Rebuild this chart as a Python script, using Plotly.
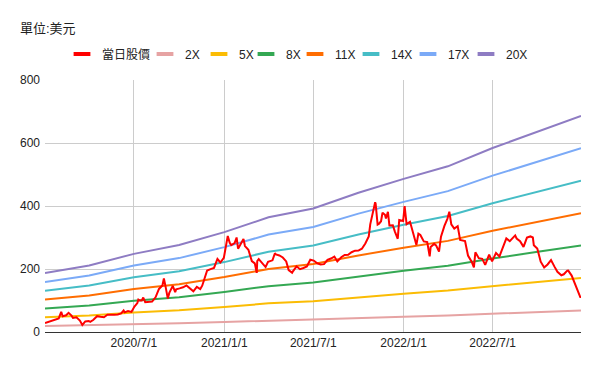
import plotly.graph_objects as go

# ---------------- data ----------------
price_dates = [
    "2020-01-02","2020-01-09","2020-01-16","2020-01-23","2020-01-30","2020-02-04","2020-02-07","2020-02-14",
    "2020-02-19","2020-02-25","2020-02-28","2020-03-06","2020-03-13","2020-03-18","2020-03-24","2020-03-31",
    "2020-04-03","2020-04-09","2020-04-14","2020-04-17","2020-04-24","2020-05-01","2020-05-08","2020-05-15",
    "2020-05-22","2020-05-29","2020-06-05","2020-06-10","2020-06-12","2020-06-19","2020-06-26","2020-07-02",
    "2020-07-08","2020-07-10","2020-07-13","2020-07-17","2020-07-20","2020-07-24","2020-07-31","2020-08-07",
    "2020-08-14","2020-08-21","2020-08-28","2020-08-31","2020-09-04","2020-09-08","2020-09-11","2020-09-18",
    "2020-09-23","2020-09-25","2020-10-02","2020-10-09","2020-10-16","2020-10-23","2020-10-30","2020-11-06",
    "2020-11-13","2020-11-17","2020-11-20","2020-11-24","2020-11-27","2020-12-04","2020-12-11","2020-12-18",
    "2020-12-24","2020-12-31",
    "2021-01-08","2021-01-12","2021-01-15","2021-01-22","2021-01-26","2021-01-29","2021-02-05","2021-02-09",
    "2021-02-12","2021-02-19","2021-02-26","2021-03-04","2021-03-08","2021-03-09","2021-03-12","2021-03-19",
    "2021-03-26","2021-03-31","2021-04-09","2021-04-14","2021-04-16","2021-04-23","2021-04-30","2021-05-07",
    "2021-05-12","2021-05-19","2021-05-21","2021-05-28","2021-06-04","2021-06-11","2021-06-18","2021-06-25",
    "2021-07-02","2021-07-09","2021-07-16","2021-07-23","2021-07-30","2021-08-06","2021-08-13","2021-08-19",
    "2021-08-27","2021-09-03","2021-09-10","2021-09-17","2021-09-24","2021-10-01","2021-10-08","2021-10-15",
    "2021-10-22","2021-10-25","2021-10-29","2021-11-04","2021-11-05","2021-11-09","2021-11-12","2021-11-16",
    "2021-11-19","2021-11-24","2021-11-26","2021-11-30","2021-12-03","2021-12-10","2021-12-14","2021-12-20",
    "2021-12-23","2021-12-31",
    "2022-01-03","2022-01-07","2022-01-14","2022-01-21","2022-01-27","2022-01-31","2022-02-04","2022-02-11",
    "2022-02-18","2022-02-23","2022-02-25","2022-03-04","2022-03-08","2022-03-14","2022-03-18","2022-03-25",
    "2022-03-31","2022-04-04","2022-04-08","2022-04-14","2022-04-21","2022-04-26","2022-04-29","2022-05-06",
    "2022-05-12","2022-05-20","2022-05-24","2022-05-27","2022-06-03","2022-06-10","2022-06-16","2022-06-24",
    "2022-06-30","2022-07-08","2022-07-15","2022-07-22","2022-07-29","2022-08-05","2022-08-12","2022-08-16",
    "2022-08-19","2022-08-26","2022-09-02","2022-09-09","2022-09-16","2022-09-21","2022-09-23","2022-09-30",
    "2022-10-07","2022-10-14","2022-10-21","2022-10-28","2022-11-04","2022-11-10","2022-11-18","2022-11-23",
    "2022-11-30","2022-12-02","2022-12-09","2022-12-16","2022-12-22","2022-12-27","2022-12-28",
]
price_values = [
    28.7, 32.1, 34.2, 37.6, 43.0, 64.0, 50.0, 53.0,
    61.0, 52.0, 44.5, 46.8, 36.4, 22.5, 33.5, 34.9,
    32.1, 38.2, 47.8, 50.3, 48.3, 46.8, 54.6, 53.5,
    54.6, 55.7, 59.0, 68.3, 62.4, 66.7, 63.9, 80.6,
    92.0, 103.0, 99.8, 100.1, 109.5, 94.5, 95.4, 96.7,
    110.1, 136.7, 147.6, 170.0, 139.4, 106.0, 124.2, 146.5,
    126.8, 135.5, 138.4, 141.9, 148.0, 140.1, 129.3, 143.3,
    136.2, 147.0, 163.2, 185.0, 195.3, 199.7, 203.3, 231.7,
    220.6, 235.2,
    305.0, 283.0, 276.0, 282.2, 300.0, 264.5, 285.9, 295.0,
    272.8, 260.9, 225.2, 217.7, 187.7, 225.4, 231.2, 218.3,
    206.2, 222.6, 227.5, 250.0, 246.3, 243.0, 236.5, 224.2,
    196.6, 187.8, 193.5, 208.4, 199.3, 203.3, 207.8, 229.6,
    226.8, 218.2, 214.4, 215.4, 229.1, 233.3, 239.5, 224.0,
    237.3, 244.7, 245.0, 253.2, 258.1, 258.4, 264.5, 281.0,
    303.2, 341.6, 371.3, 412.0, 407.4, 341.0, 344.0, 351.6,
    379.0, 372.0, 360.6, 381.6, 338.3, 339.0, 319.5, 296.0,
    355.7, 352.3,
    399.9, 342.3, 349.9, 314.6, 276.4, 312.2, 307.8, 287.6,
    285.7, 240.0, 269.9, 279.7, 275.0, 255.5, 302.8, 336.9,
    359.2, 381.8, 341.8, 328.3, 336.0, 292.1, 290.3, 288.6,
    242.7, 221.3, 205.0, 253.2, 234.5, 232.2, 213.0, 245.7,
    224.5, 250.8, 240.1, 272.2, 297.1, 288.2, 300.6, 306.6,
    296.7, 288.1, 270.2, 299.7, 303.4, 300.0, 275.3, 265.3,
    223.1, 205.0, 214.4, 228.5, 207.5, 191.3, 180.2, 183.2,
    194.7, 194.9, 179.1, 150.2, 125.4, 109.1, 112.7,
]

# base value behind the multiple bands (read from the 20X / 17X lines)
band_dates = ["2020-01-02","2020-04-01","2020-07-01","2020-10-01","2021-01-01","2021-04-01",
              "2021-07-01","2021-10-01","2022-01-01","2022-04-01","2022-07-01","2022-10-01","2022-12-28"]
band_base = [9.35, 10.55, 12.4, 13.8, 15.85, 18.2, 19.6, 22.1, 24.3, 26.3, 29.2, 31.8, 34.3]
band_multiples = [2, 5, 8, 11, 14, 17, 20]
band_names = ["2X", "5X", "8X", "11X", "14X", "17X", "20X"]
band_colors = ["#e6a3a3", "#fbbc04", "#34a853", "#ff6d01", "#46bdc6", "#7baaf7", "#8e7cc3"]

price_name = "當日股價"
price_color = "#ff0000"

x_tickvals = ["2020-07-01", "2021-01-01", "2021-07-01", "2022-01-01", "2022-07-01"]
x_ticktext = ["2020/7/1", "2021/1/1", "2021/7/1", "2022/1/1", "2022/7/1"]
y_tickvals = [0, 200, 400, 600, 800]

FONT = "Liberation Sans, Arial, Noto Sans CJK TC, sans-serif"

# legend entry widths (px) so that entries sit where the reference puts them
legend_entry_widths = [38, 9, 2, 4, 11, 12, 13, 0]

fig = go.Figure()

# band lines
for name, mult, col in zip(band_names, band_multiples, band_colors):
    fig.add_trace(go.Scatter(
        x=band_dates, y=[b * mult for b in band_base], mode="lines", name=name,
        line=dict(color=col, width=2), showlegend=False, hoverinfo="skip"))

# price line
fig.add_trace(go.Scatter(x=price_dates, y=price_values, mode="lines", name=price_name,
                         line=dict(color=price_color, width=2), showlegend=False))

# legend entries (short thick dashes)
for (name, col), lw in zip([(price_name, price_color)] + list(zip(band_names, band_colors)),
                           legend_entry_widths):
    kw = dict(legendwidth=lw) if lw else {}
    fig.add_trace(go.Scatter(x=[None], y=[None], mode="markers", name=name,
                             marker=dict(symbol="line-ew", size=12, color=col,
                                         line=dict(color=col, width=4)), **kw))

# page body has an 8px margin -> figure is 584x355 placed at (8,8)
W, H = 584, 355
L, T = 37, 72
fig.update_layout(
    width=W, height=H,
    margin=dict(l=L, r=W - L - 536, t=T, b=H - T - 252, autoexpand=False),
    paper_bgcolor="white", plot_bgcolor="white",
    font=dict(family=FONT, size=12, color="#222222"),
    title=dict(text="單位:美元", x=12 / W, xref="container", xanchor="left",
               y=1 - 20 / H, yref="container", yanchor="middle",
               font=dict(family=FONT, size=13, color="#222222")),
    legend=dict(orientation="h", x=(54 - L) / 536, xanchor="left",
                y=1 + 26 / 252, yanchor="middle",
                font=dict(family=FONT, size=12, color="#222222"),
                itemwidth=30, tracegroupgap=0, bgcolor="rgba(0,0,0,0)"),
    showlegend=True,
)
fig.update_xaxes(range=["2020-01-02", "2022-12-28"], tickvals=x_tickvals, ticktext=x_ticktext,
                 showgrid=True, gridcolor="#cccccc", gridwidth=1,
                 showline=True, linecolor="#333333", linewidth=1,
                 ticks="", tickfont=dict(family=FONT, size=12, color="#222222"), zeroline=False)
fig.update_yaxes(range=[0, 800], tickvals=y_tickvals, showgrid=True, gridcolor="#cccccc",
                 gridwidth=1, zeroline=False, showline=False, ticks="", ticklabelstandoff=4,
                 tickfont=dict(family=FONT, size=12, color="#222222"))

fig.write_html("out.html")
